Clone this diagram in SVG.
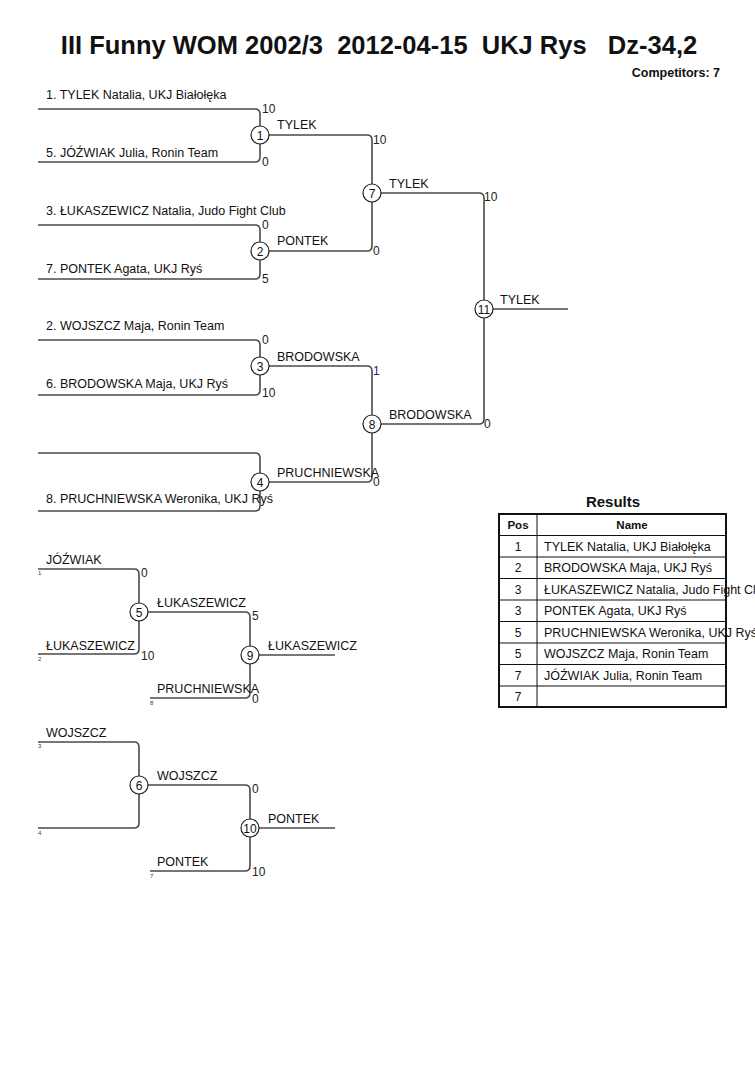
<svg xmlns="http://www.w3.org/2000/svg" width="755" height="1069" viewBox="0 0 755 1069">
<style>
text{font-family:"Liberation Sans",Arial,sans-serif;fill:#111}
.t{font-size:25.5px;font-weight:bold;white-space:pre}
.n{font-size:12.5px}
.s{font-size:12px;fill:#222}
.c{font-size:12px;text-anchor:middle}
.m{font-size:6px;fill:#303070}
.b{fill:none;stroke:#4a4a4a;stroke-width:1.6}
circle{fill:#fff;stroke:#222;stroke-width:1.2}
.tb{fill:none;stroke:#111;stroke-width:1}
.h{font-size:11.5px;font-weight:bold;text-anchor:middle}
</style>
<rect width="755" height="1069" fill="#fff"/>
<text class="t" x="379" y="54" text-anchor="middle" xml:space="preserve">III Funny WOM 2002/3  2012-04-15  UKJ Rys   Dz-34,2</text>
<text x="720" y="77" text-anchor="end" style="font-size:12.5px;font-weight:bold">Competitors: 7</text>
<g id="connectors">
<path class="b" d="M38,109 H255 Q260,109 260,114 V157 Q260,162 255,162 H38"/>
<path class="b" d="M38,225 H255 Q260,225 260,230 V274 Q260,279 255,279 H38"/>
<path class="b" d="M38,340 H255 Q260,340 260,345 V390 Q260,395 255,395 H38"/>
<path class="b" d="M38,453 H255 Q260,453 260,458 V506 Q260,511 255,511 H38"/>
<path class="b" d="M269,135 H367 Q372,135 372,140 V246 Q372,251 367,251 H269"/>
<path class="b" d="M269,366 H367 Q372,366 372,371 V477 Q372,482 367,482 H269"/>
<path class="b" d="M381,193 H479 Q484,193 484,198 V419 Q484,424 479,424 H381"/>
<path class="b" d="M493,309 H568"/>
<path class="b" d="M38,569 H134 Q139,569 139,574 V649 Q139,654 134,654 H38"/>
<path class="b" d="M148,612 H245 Q250,612 250,617 V693 Q250,698 245,698 H150"/>
<path class="b" d="M259,655 H335"/>
<path class="b" d="M38,742 H134 Q139,742 139,747 V823 Q139,828 134,828 H38"/>
<path class="b" d="M148,785 H245 Q250,785 250,790 V866 Q250,871 245,871 H150"/>
<path class="b" d="M259,828 H335"/>
</g>
<g id="entrants">
<text class="n" x="46" y="99">1. TYLEK Natalia, UKJ Białołęka</text>
<text class="n" x="46" y="157">5. JÓŹWIAK Julia, Ronin Team</text>
<text class="n" x="46" y="215">3. ŁUKASZEWICZ Natalia, Judo Fight Club</text>
<text class="n" x="46" y="273">7. PONTEK Agata, UKJ Ryś</text>
<text class="n" x="46" y="330">2. WOJSZCZ Maja, Ronin Team</text>
<text class="n" x="46" y="388">6. BRODOWSKA Maja, UKJ Ryś</text>
<text class="n" x="46" y="503">8. PRUCHNIEWSKA Weronika, UKJ Ryś</text>
</g>
<g id="m1"><circle cx="260" cy="135" r="9"/><text class="c" x="260" y="139.5">1</text><text class="s" x="262" y="113">10</text><text class="s" x="262" y="166">0</text><text class="n" x="277" y="129">TYLEK</text></g>
<g id="m2"><circle cx="260" cy="251" r="9"/><text class="c" x="260" y="255.5">2</text><text class="s" x="262" y="229">0</text><text class="s" x="262" y="283">5</text><text class="n" x="277" y="245">PONTEK</text></g>
<g id="m3"><circle cx="260" cy="366" r="9"/><text class="c" x="260" y="370.5">3</text><text class="s" x="262" y="344">0</text><text class="s" x="262" y="397">10</text><text class="n" x="277" y="361">BRODOWSKA</text></g>
<g id="m4"><circle cx="260" cy="482" r="9"/><text class="c" x="260" y="486.5">4</text><text class="n" x="277" y="477">PRUCHNIEWSKA</text></g>
<g id="m7"><circle cx="372" cy="193" r="9"/><text class="c" x="372" y="197.5">7</text><text class="s" x="373" y="144">10</text><text class="s" x="373" y="255">0</text><text class="n" x="389" y="188">TYLEK</text></g>
<g id="m8"><circle cx="372" cy="424" r="9"/><text class="c" x="372" y="428.5">8</text><text class="s" x="373" y="375" style="fill:#1a237e">1</text><text class="s" x="373" y="486">0</text><text class="n" x="389" y="419">BRODOWSKA</text></g>
<g id="m11"><circle cx="484" cy="309" r="9"/><text class="c" x="484" y="313.5">11</text><text class="s" x="484" y="201">10</text><text class="s" x="484" y="428">0</text><text class="n" x="500" y="304">TYLEK</text></g>
<g id="m5"><circle cx="139" cy="612" r="9"/><text class="c" x="139" y="616.5">5</text><text class="s" x="141" y="577">0</text><text class="s" x="141" y="660">10</text><text class="n" x="46" y="564">JÓŹWIAK</text><text class="m" x="38" y="575">1</text><text class="n" x="46" y="650">ŁUKASZEWICZ</text><text class="m" x="38" y="661">2</text><text class="n" x="157" y="607">ŁUKASZEWICZ</text></g>
<g id="m9"><circle cx="250" cy="655" r="9"/><text class="c" x="250" y="659.5">9</text><text class="s" x="252" y="620">5</text><text class="s" x="252" y="703">0</text><text class="n" x="157" y="693">PRUCHNIEWSKA</text><text class="m" x="150" y="705">8</text><text class="n" x="268" y="650">ŁUKASZEWICZ</text></g>
<g id="m6"><circle cx="139" cy="785" r="9"/><text class="c" x="139" y="789.5">6</text><text class="n" x="46" y="737">WOJSZCZ</text><text class="m" x="38" y="748">3</text><text class="m" x="38" y="835">4</text><text class="n" x="157" y="780">WOJSZCZ</text></g>
<g id="m10"><circle cx="250" cy="828" r="9"/><text class="c" x="250" y="832.5">10</text><text class="s" x="252" y="793">0</text><text class="s" x="252" y="876">10</text><text class="n" x="157" y="866">PONTEK</text><text class="m" x="150" y="878">7</text><text class="n" x="268" y="823">PONTEK</text></g>
<g id="results">
<text x="613" y="507" text-anchor="middle" style="font-size:15px;font-weight:bold">Results</text>
<text class="h" x="518" y="529">Pos</text><text class="h" x="632" y="529">Name</text>
<g style="font-size:12.5px">
<text class="c" x="518" y="551">1</text><text x="544" y="551">TYLEK Natalia, UKJ Białołęka</text>
<text class="c" x="518" y="572">2</text><text x="544" y="572">BRODOWSKA Maja, UKJ Ryś</text>
<text class="c" x="518" y="594">3</text><text x="544" y="594">ŁUKASZEWICZ Natalia, Judo Fight Club</text>
<text class="c" x="518" y="615">3</text><text x="544" y="615">PONTEK Agata, UKJ Ryś</text>
<text class="c" x="518" y="637">5</text><text x="544" y="637">PRUCHNIEWSKA Weronika, UKJ Ryś</text>
<text class="c" x="518" y="658">5</text><text x="544" y="658">WOJSZCZ Maja, Ronin Team</text>
<text class="c" x="518" y="680">7</text><text x="544" y="680">JÓŹWIAK Julia, Ronin Team</text>
<text class="c" x="518" y="701">7</text>
</g>
<path class="tb" d="M499,535.5 H726 M499,557 H726 M499,578.5 H726 M499,600 H726 M499,621.5 H726 M499,643 H726 M499,664.5 H726 M499,686 H726 M537,514 V707"/>
<rect x="499" y="514" width="227" height="193" fill="none" stroke="#111" stroke-width="2"/>
</g>
</svg>
